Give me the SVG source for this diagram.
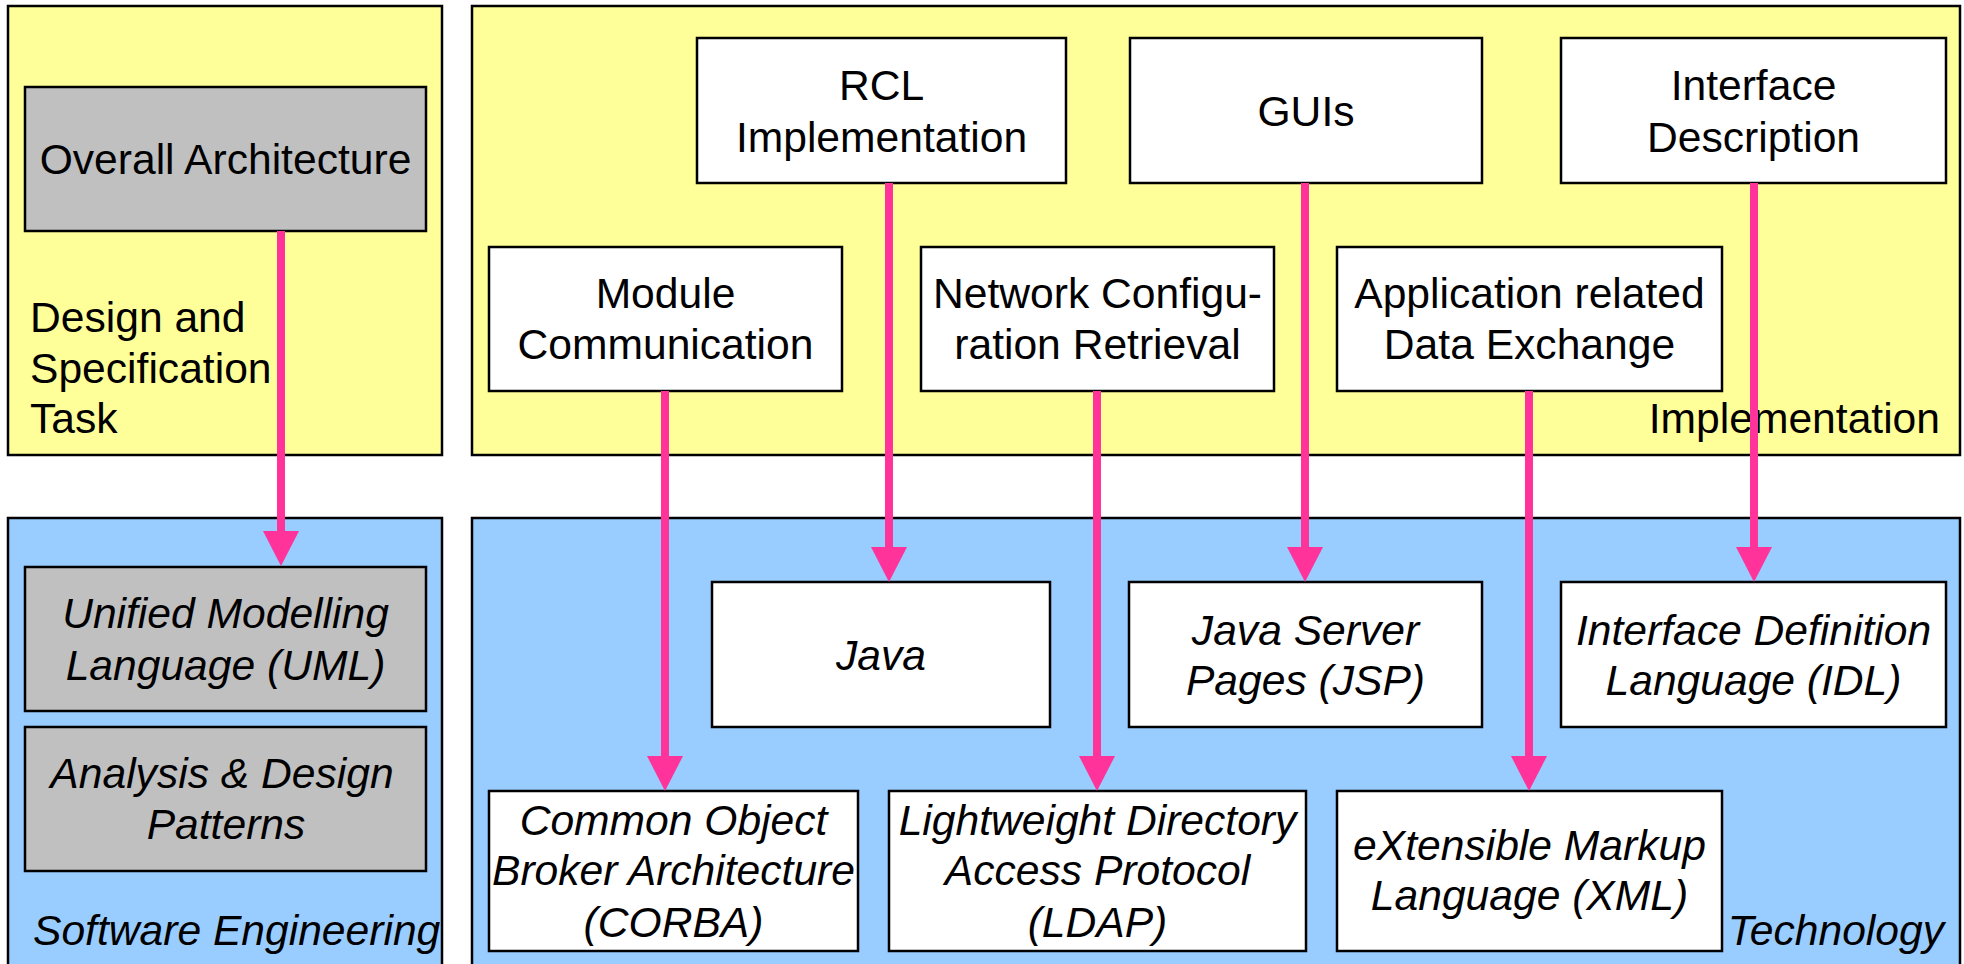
<svg xmlns="http://www.w3.org/2000/svg" width="1964" height="964" viewBox="0 0 1964 964">
<style>
.py{fill:#FFFF99;stroke:#000;stroke-width:2.5}
.pb{fill:#99CCFF;stroke:#000;stroke-width:2.5}
.bw{fill:#FFFFFF;stroke:#000;stroke-width:2.5}
.bg{fill:#C0C0C0;stroke:#000;stroke-width:2.5}
text{font-family:"Liberation Sans",Arial,sans-serif;font-size:42.6px;fill:#000}
.c{text-anchor:middle}
.i{font-style:italic}
.con line{stroke:#FF3399;stroke-width:8;marker-end:url(#ah)}
</style>
<defs>
<marker id="ah" markerUnits="userSpaceOnUse" markerWidth="36" markerHeight="36" viewBox="0 0 36 36" refX="0" refY="18" orient="auto">
<path d="M0,0 L35,18 L0,36 Z" fill="#FF3399"/>
</marker>
</defs>
<rect width="1964" height="964" fill="#FFFFFF"/>
<g id="panel-design">
<rect class="py" x="8" y="6" width="434" height="449"/>
<text x="30" y="332">Design and</text>
<text x="30" y="383">Specification</text>
<text x="30" y="433">Task</text>
</g>
<g id="panel-implementation">
<rect class="py" x="472" y="6" width="1488" height="449"/>
<text x="1940" y="433" text-anchor="end">Implementation</text>
</g>
<g id="panel-software">
<rect class="pb" x="8" y="518" width="434" height="460"/>
<text class="i" x="33" y="945">Software Engineering</text>
</g>
<g id="panel-technology">
<rect class="pb" x="472" y="518" width="1488" height="460"/>
<text class="i" x="1944" y="945" text-anchor="end">Technology</text>
</g>
<g id="overall">
<rect class="bg" x="25" y="87" width="401" height="144"/>
<text class="c" x="225.5" y="174">Overall Architecture</text>
</g>
<g id="uml">
<rect class="bg" x="25" y="567" width="401" height="144"/>
<text class="c i" x="225.5" y="628">Unified Modelling</text>
<text class="c i" x="225.5" y="680">Language (UML)</text>
</g>
<g id="patterns">
<rect class="bg" x="25" y="727" width="401" height="144"/>
<text class="c i" x="222" y="788">Analysis &amp; Design</text>
<text class="c i" x="226" y="839">Patterns</text>
</g>
<g id="rcl">
<rect class="bw" x="697" y="38" width="369" height="145"/>
<text class="c" x="881.5" y="100">RCL</text>
<text class="c" x="881.5" y="152">Implementation</text>
</g>
<g id="guis">
<rect class="bw" x="1130" y="38" width="352" height="145"/>
<text class="c" x="1306" y="126">GUIs</text>
</g>
<g id="interface-desc">
<rect class="bw" x="1561" y="38" width="385" height="145"/>
<text class="c" x="1753.5" y="100">Interface</text>
<text class="c" x="1753.5" y="152">Description</text>
</g>
<g id="module">
<rect class="bw" x="489" y="247" width="353" height="144"/>
<text class="c" x="665.5" y="308">Module</text>
<text class="c" x="665.5" y="359">Communication</text>
</g>
<g id="network">
<rect class="bw" x="921" y="247" width="353" height="144"/>
<text class="c" x="1097.5" y="308">Network Configu-</text>
<text class="c" x="1097.5" y="359">ration Retrieval</text>
</g>
<g id="appdata">
<rect class="bw" x="1337" y="247" width="385" height="144"/>
<text class="c" x="1529.5" y="308">Application related</text>
<text class="c" x="1529.5" y="359">Data Exchange</text>
</g>
<g id="java">
<rect class="bw" x="712" y="582" width="338" height="145"/>
<text class="c i" x="881" y="670">Java</text>
</g>
<g id="jsp">
<rect class="bw" x="1129" y="582" width="353" height="145"/>
<text class="c i" x="1305.5" y="645">Java Server</text>
<text class="c i" x="1305.5" y="695">Pages (JSP)</text>
</g>
<g id="idl">
<rect class="bw" x="1561" y="582" width="385" height="145"/>
<text class="c i" x="1753.5" y="645">Interface Definition</text>
<text class="c i" x="1753.5" y="695">Language (IDL)</text>
</g>
<g id="corba">
<rect class="bw" x="489" y="791" width="369" height="160"/>
<text class="c i" x="673.5" y="835">Common Object</text>
<text class="c i" x="673.5" y="885">Broker Architecture</text>
<text class="c i" x="673.5" y="937">(CORBA)</text>
</g>
<g id="ldap">
<rect class="bw" x="889" y="791" width="417" height="160"/>
<text class="c i" x="1097.5" y="835">Lightweight Directory</text>
<text class="c i" x="1097.5" y="885">Access Protocol</text>
<text class="c i" x="1097.5" y="937">(LDAP)</text>
</g>
<g id="xml">
<rect class="bw" x="1337" y="791" width="385" height="160"/>
<text class="c i" x="1529.5" y="860">eXtensible Markup</text>
<text class="c i" x="1529.5" y="910">Language (XML)</text>
</g>
<g id="connectors" class="con">
<line x1="281" y1="231" x2="281" y2="531"/>
<line x1="665" y1="391" x2="665" y2="756"/>
<line x1="889" y1="183" x2="889" y2="547"/>
<line x1="1097" y1="391" x2="1097" y2="756"/>
<line x1="1305" y1="183" x2="1305" y2="547"/>
<line x1="1529" y1="391" x2="1529" y2="756"/>
<line x1="1754" y1="183" x2="1754" y2="547"/>
</g>
</svg>
